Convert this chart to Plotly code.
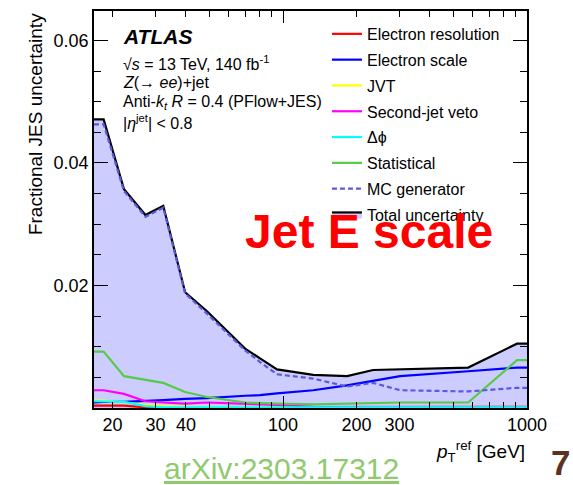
import math
import plotly.graph_objects as go

# ---- data ----
pt = [16.8, 18.4, 22.3, 27.3, 32.3, 39.7, 48.8, 69.9, 80.5, 94.5, 133, 183, 234, 302, 574, 910, 1000]
total = [0.0471, 0.0471, 0.0357, 0.0315, 0.0330, 0.0189, 0.0158, 0.0097, 0.0081, 0.0063,
         0.0054, 0.0052, 0.0062, 0.0063, 0.0066, 0.0105, 0.0105]
mc_gen = [0.0463, 0.0463, 0.0354, 0.0312, 0.0327, 0.0187, 0.0154, 0.0094, 0.0075, 0.0055,
          0.0048, 0.0035, 0.0041, 0.0029, 0.0027, 0.0033, 0.0033]
el_scale = [0.0009, 0.0010, 0.0010, 0.0011, 0.0013, 0.0015, 0.0016, 0.0020, 0.0021, 0.0024,
            0.0029, 0.0037, 0.0044, 0.0052, 0.0060, 0.0066, 0.0066]
stat = [0.0092, 0.0092, 0.0052, 0.0046, 0.0041, 0.0026, 0.0018, 0.0009, 0.0008, 0.0007,
        0.0006, 0.0007, 0.0008, 0.0009, 0.0009, 0.0078, 0.0078]
second_jet = [0.0029, 0.0029, 0.0023, 0.0011, 0.0009, 0.0007, 0.0009, 0.0007, 0.0006, 0.0005,
              0.0002, 0.0001, 0.0001, 0.0001, 0.0001, 0.0001, 0.0001]
dphi = [0.0011, 0.0011, 0.0010, 0.0003, 0.0001, 0.0001, 0.0001, 0.0001, 0.0001, 0.0001,
        0.0001, 0.0001, 0.0001, 0.0001, 0.0001, 0.0001, 0.0001]
jvt = [0.0012, 0.0012, 0.0009, 0.0005, 0.0003, 0.0002, 0.00015, 0.00015, 0.00015, 0.00015,
       0.00015, 0.00015, 0.00015, 0.00015, 0.00015, 0.00015, 0.00015]
el_res = [0.0004, 0.0004, 0.0004, 0.0001, 0.0001, 0.0001, 0.0001, 0.0001, 0.0001, 0.0001,
          0.0001, 0.0001, 0.0001, 0.00015, 0.00015, 0.0002, 0.0002]

x_ticks = [20, 30, 40, 100, 200, 300, 1000]
x_minor = [50, 60, 70, 80, 90, 400, 500, 600, 700, 800, 900]
x_long = [100, 1000]
y_ticks = [0.02, 0.04, 0.06]

FONT = "Liberation Sans, Arial, Helvetica, sans-serif"

fig = go.Figure()

# total uncertainty band (drawn first, listed last)
fig.add_trace(go.Scatter(
    x=pt, y=total, mode="lines", name="Total uncertainty",
    line=dict(color="black", width=2.2), fill="tozeroy",
    fillcolor="rgb(204,204,255)", legendgroup="g8", legendrank=8))

components = [
    ("Electron resolution", el_res, "#ff0000", None),
    ("Electron scale", el_scale, "#0000ff", None),
    ("JVT", jvt, "#ffff00", None),
    ("Second-jet veto", second_jet, "#ff00ff", None),
    ("Δϕ", dphi, "#00ffff", None),
    ("Statistical", stat, "#55cc44", None),
    ("MC generator", mc_gen, "#5a5ae0", "5px,3px"),
]
for i, (name, vals, col, dash) in enumerate(components):
    fig.add_trace(go.Scatter(
        x=pt, y=vals, mode="lines", name=name,
        line=dict(color=col, width=2.2, dash=dash),
        legendgroup="g%d" % (i + 1), legendrank=i + 1))

# invisible trace carrying the overlay axis for the long ticks
fig.add_trace(go.Scatter(x=pt, y=total, xaxis="x2", mode="lines",
                         line=dict(width=0), opacity=0, showlegend=False,
                         hoverinfo="skip"))

xr = [math.log10(16.8), 3.0]
yr = [0, 0.0648]

fig.update_layout(
    width=573, height=485,
    margin=dict(l=94, r=46, t=9, b=77),
    paper_bgcolor="white", plot_bgcolor="white",
    font=dict(family=FONT, color="black", size=16),
    xaxis=dict(type="log", range=xr, tickvals=x_ticks,
               ticktext=[str(v) for v in x_ticks],
               ticks="inside", ticklen=6, tickwidth=1.2, tickcolor="black",
               showline=True, linecolor="black", linewidth=1.5, mirror="ticks",
               showgrid=False, zeroline=False,
               tickfont=dict(size=18),
               minor=dict(tickvals=x_minor, ticks="inside", ticklen=6,
                          tickwidth=1.2, tickcolor="black", showgrid=False)),
    xaxis2=dict(type="log", range=xr, overlaying="x", anchor="y",
                tickvals=x_long, ticks="inside", ticklen=12, tickwidth=1.2,
                tickcolor="black", showticklabels=False, showgrid=False,
                zeroline=False, mirror="ticks", showline=False),
    yaxis=dict(range=yr, tickvals=y_ticks, ticktext=["0.02", "0.04", "0.06"],
               ticks="inside", ticklen=14, tickwidth=1.2, tickcolor="black",
               showline=True, linecolor="black", linewidth=1.5, mirror="ticks",
               showgrid=False, zeroline=False, tickfont=dict(size=18),
               minor=dict(dtick=0.005, ticks="inside", ticklen=7, tickwidth=1.2,
                          tickcolor="black", showgrid=False)),
    showlegend=True,
    legend=dict(x=0.538, y=0.985, xanchor="left", yanchor="top",
                bgcolor="rgba(0,0,0,0)", font=dict(size=16, family=FONT),
                traceorder="grouped", tracegroupgap=2),
)

ann = []
ann.append(dict(text="Fractional JES uncertainty", textangle=-90, xref="paper", yref="paper",
                x=-0.136, y=1.0, xanchor="center", yanchor="top", showarrow=False,
                font=dict(size=19)))
ann.append(dict(text="<i>p</i><sub>T</sub><sup>ref</sup> [GeV]", xref="paper", yref="paper",
                x=1.0, y=-0.11, xanchor="right", yanchor="middle", showarrow=False,
                font=dict(size=19)))
tx = 0.0624
ann.append(dict(text="<b><i>ATLAS</i></b>", xref="paper", yref="paper", x=tx, y=0.9355,
                xanchor="left", yanchor="middle", showarrow=False, font=dict(size=21)))
lines = [
    ("√<i>s</i> = 13 TeV, 140 fb<sup>-1</sup>", 0.870),
    ("<i>Z</i>(→ <i>ee</i>)+jet", 0.820),
    ("Anti-<i>k</i><sub><i>t</i></sub> <i>R</i> = 0.4 (PFlow+JES)", 0.770),
    ("|<i>η</i><sup>jet</sup>| &lt; 0.8", 0.720),
]
for t, yy in lines:
    ann.append(dict(text=t, xref="paper", yref="paper", x=tx, y=yy, xanchor="left",
                    yanchor="middle", showarrow=False, font=dict(size=16)))
ann.append(dict(text="<b>Jet E scale</b>", xref="paper", yref="paper", x=0.634, y=0.445,
                xanchor="center", yanchor="middle", showarrow=False,
                font=dict(size=48, color="#ff0000")))
ann.append(dict(text="<u>arXiv:2303.17312</u>", xref="paper", yref="paper", x=0.432, y=-0.152,
                xanchor="center", yanchor="middle", showarrow=False,
                font=dict(size=30, color="#8fca6e")))
ann.append(dict(text="<b>7</b>", xref="paper", yref="paper", x=1.078, y=-0.137,
                xanchor="center", yanchor="middle", showarrow=False,
                font=dict(size=35, color="#5b3222")))
fig.update_layout(annotations=ann)

fig.write_html("out.html")
